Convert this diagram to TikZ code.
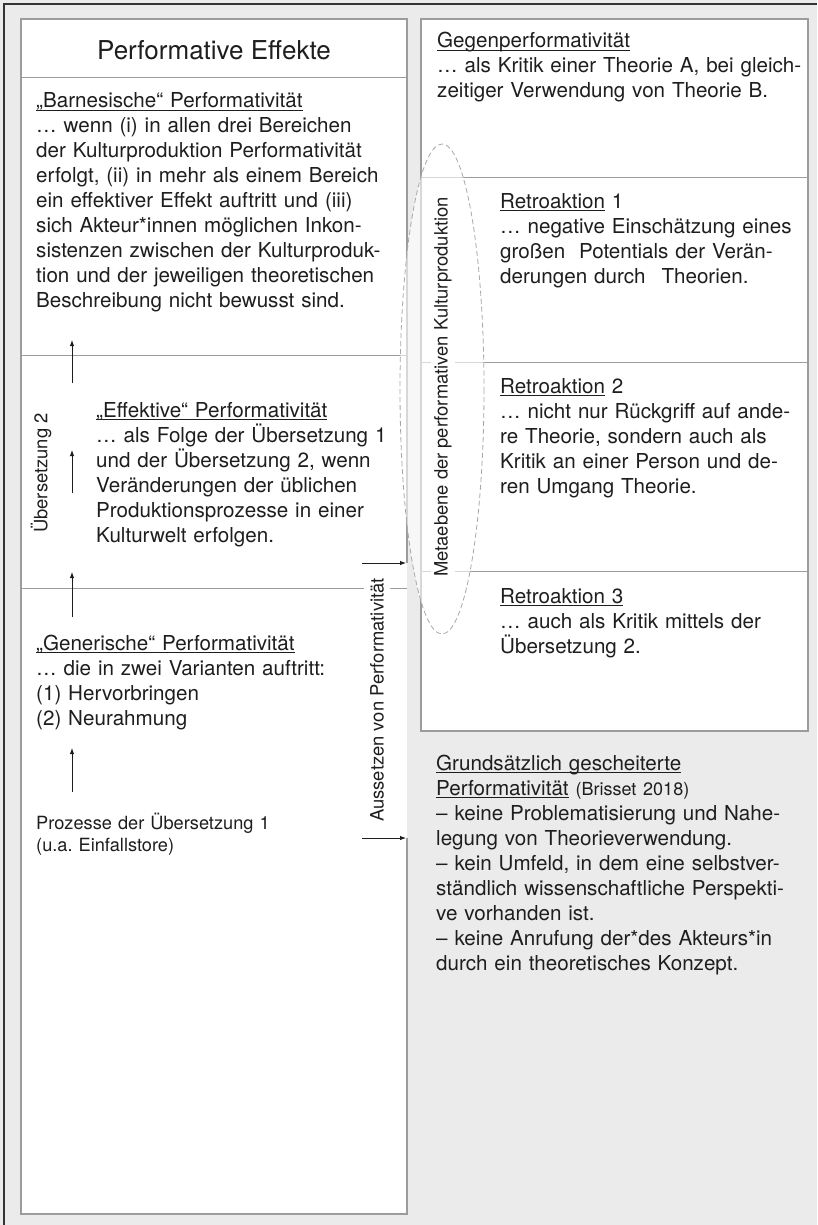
\documentclass[tikz,border=0pt]{standalone}
\usepackage{fontspec}
\setmainfont{TeX Gyre Heros}
\usetikzlibrary{arrows.meta}
\definecolor{bg}{HTML}{EBEBEB}
\definecolor{framecol}{HTML}{333333}
\definecolor{boxline}{HTML}{9C9C9C}
\definecolor{ink}{HTML}{1E1E1E}
\definecolor{dashcol}{HTML}{A8A8A8}
% underlined heading text
\newsavebox\undlbox
\newcommand\undl[1]{\leavevmode\sbox\undlbox{#1}\rlap{\rule[-3.4pt]{\wd\undlbox}{1.1pt}}\usebox\undlbox}
% one fully justified line
\newcommand\jl[1]{\makebox[\linewidth][s]{#1}\\}
\begin{document}
\begin{tikzpicture}[x=1pt,y=-1pt,
  every node/.style={text=ink, inner sep=0pt},
  bodytext/.style={font=\fontsize{20.6}{25}\selectfont, align=left, anchor=base west},
  smalltext/.style={font=\fontsize{18.2}{22}\selectfont, align=left, anchor=base west},
  sidelabel/.style={rotate=90, font=\fontsize{18.4}{22}\selectfont},
  boxrule/.style={draw=boxline, line width=1.2pt},
  divider/.style={draw=boxline, line width=1pt},
  arr/.style={draw=ink, line width=0.9pt, -{Latex[length=6pt,width=4.5pt]}}]

% page background and frame
\fill[bg] (0,0) rectangle (817,1225);
\useasboundingbox (0,0) rectangle (817,1225);
\draw[framecol, line width=2pt] (4,1225) -- (4,4) -- (817,4);

% left column box
\fill[white] (21,19) rectangle (407,1214);
\draw[boxrule] (407,563) -- (407,19) -- (21,19) -- (21,1214) -- (407,1214) -- (407,838);
\draw[divider] (21,78) -- (407,78);
\draw[divider] (21,355) -- (407,355);
\draw[divider] (21,588) -- (407,588);

% right column box
\fill[white] (421,19) rectangle (808,731);
\draw[boxrule] (421,19) rectangle (808,731);
\draw[divider] (421,178) -- (808,178);
\draw[divider] (421,362) -- (808,362);
\draw[divider] (421,571) -- (808,571);

% meta level ellipse
\fill[white, opacity=0.6] (442,389) ellipse [x radius=42, y radius=245];
\draw[dashcol, line width=0.8pt, dash pattern=on 5pt off 3pt] (442,389) ellipse [x radius=42, y radius=245];

% left column texts
\node (title) at (214,60) [anchor=base, font=\fontsize{26}{30}\selectfont] {Performative Effekte};

\node (barn) at (36,108) [bodytext, text width=347pt] {%
\undl{„Barnesische“ Performativität}\\
\jl{… wenn (i) in allen drei Bereichen}
\jl{der Kulturproduktion Performativität}
\jl{erfolgt, (ii) in mehr als einem Bereich}
\jl{ein effektiver Effekt auftritt und (iii)}
\jl{sich Akteur*innen möglichen Inkon-}
\jl{sistenzen zwischen der Kulturproduk-}
\jl{tion und der jeweiligen theoretischen}
Beschreibung nicht bewusst sind.};

\node (eff) at (96,417) [bodytext, text width=287pt] {%
\undl{„Effektive“ Performativität}\\
\jl{… als Folge der Übersetzung 1}
\jl{und der Übersetzung 2, wenn}
\jl{Veränderungen der üblichen}
\jl{Produktionsprozesse in einer}
Kulturwelt erfolgen.};

\node (gen) at (36,650) [bodytext, text width=347pt] {%
\undl{„Generische“ Performativität}\\
… die in zwei Varianten auftritt:\\
(1) Hervorbringen\\
(2) Neurahmung};

\node (proz) at (36,829) [smalltext, text width=347pt] {%
Prozesse der Übersetzung 1\\
(u.a.\ Einfallstore)};

\node (ueb2) at (41,473) [sidelabel] {Übersetzung 2};
\node (auss) at (377,700) [sidelabel, fill=white, inner sep=6pt] {Aussetzen von Performativität};

% right column texts
\node (gegen) at (437,48) [bodytext, text width=375pt] {%
\undl{Gegenperformativität}\\
… als Kritik einer Theorie A, bei gleich-\\
zeitiger Verwendung von Theorie B.};

\node (retro1) at (500,208) [bodytext, text width=293pt] {%
\undl{Retroaktion} 1\\
\jl{… negative Einschätzung eines}
\jl{großen\ \ Potentials der Verän-}
derungen durch\hspace*{16pt}Theorien.};

\node (retro2) at (500,393) [bodytext, text width=293pt] {%
\undl{Retroaktion} 2\\
\jl{… nicht nur Rückgriff auf ande-}
\jl{re Theorie, sondern auch als}
\jl{Kritik an einer Person und de-}
ren Umgang Theorie.};

\node (retro3) at (500,603) [bodytext, text width=293pt] {%
\undl{Retroaktion 3}\\
\jl{… auch als Kritik mittels der}
Übersetzung 2.};

\node (meta) at (443,387) [sidelabel, fill=white, inner sep=3pt] {Metaebene der performativen Kulturproduktion};

\node (grund) at (436,770) [bodytext, text width=357pt] {%
\undl{Grundsätzlich gescheiterte}\\
\undl{Performativität} {\fontsize{18}{25}\selectfont (Brisset 2018)}\\
\jl{– keine Problematisierung und Nahe-}
legung von Theorieverwendung.\\
\jl{– kein Umfeld, in dem eine selbstver-}
\jl{ständlich wissenschaftliche Perspekti-}
ve vorhanden ist.\\
\jl{– keine Anrufung der*des Akteurs*in}
durch ein theoretisches Konzept.};

% arrow end points
\coordinate (u1a) at (72,383); \coordinate (u1b) at (72,340);
\coordinate (u2a) at (72,493); \coordinate (u2b) at (72,450);
\coordinate (u3a) at (72,617); \coordinate (u3b) at (72,572);
\coordinate (u4a) at (72,792); \coordinate (u4b) at (72,748);
\coordinate (h1a) at (362,563); \coordinate (h1b) at (406,563);
\coordinate (h2a) at (362,838); \coordinate (h2b) at (406,838);

% upward translation arrows
\draw[arr] (u1a) -- (u1b);
\draw[arr] (u2a) -- (u2b);
\draw[arr] (u3a) -- (u3b);
\draw[arr] (u4a) -- (u4b);

% arrows into the right column
\draw[arr] (h1a) -- (h1b);
\draw[arr] (h2a) -- (h2b);
\end{tikzpicture}
\end{document}
